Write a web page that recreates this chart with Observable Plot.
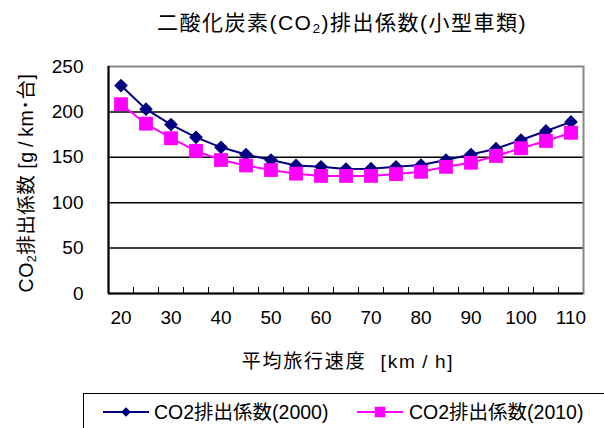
<!DOCTYPE html>
<html>
<head>
<meta charset="utf-8">
<script src="https://cdn.jsdelivr.net/npm/d3@7"></script>
<script src="https://cdn.jsdelivr.net/npm/@observablehq/plot@0.6"></script>
<style>
  body { margin: 0; background: #fff; }
  #wrap { position: relative; width: 604px; height: 428px; overflow: hidden; font-family: "Liberation Sans", Arial, "Noto Sans CJK JP", sans-serif; color: #000; }
  #chart { position: absolute; left: 0; top: 0; }
  #title { position: absolute; left: 0; top: 11px; width: 684px; text-align: center; font-size: 21px; letter-spacing: 1.5px; line-height: 24px; white-space: nowrap; }
  #xlab { position: absolute; left: 0; top: 350px; width: 696px; text-align: center; font-size: 19px; letter-spacing: 1.8px; line-height: 24px; white-space: nowrap; }
  #ylab { position: absolute; left: 26px; top: 183px; transform: translate(-50%, -50%) rotate(-90deg); font-size: 19.5px; letter-spacing: 0.5px; line-height: 22px; white-space: nowrap; }
  sub { font-size: 0.65em; vertical-align: -0.25em; line-height: 0; }
  #legend { position: absolute; left: 83px; top: 393px; width: 540px; height: 50px; border: 1px solid #000; box-sizing: border-box; }
  .lg { position: absolute; top: 6px; font-size: 19.5px; line-height: 24px; white-space: nowrap; }
</style>
</head>
<body>
<div id="wrap">
  <div id="chart"></div>
  <div id="title">二酸化炭素(CO<sub>2</sub>)排出係数(小型車類)</div>
  <div id="ylab">CO<sub>2</sub>排出係数 [g&#8201;/&#8201;km･台]</div>
  <div id="xlab">平均旅行速度&nbsp; [km&#8201;/&#8201;h]</div>
  <div id="legend"></div>
</div>
<script>
const speeds = [20, 25, 30, 35, 40, 45, 50, 55, 60, 65, 70, 75, 80, 85, 90, 95, 100, 105, 110];
const co2_2000 = [229, 203, 186, 172, 161, 153, 147, 141, 139.5, 137, 137.5, 139.5, 141.5, 147, 153, 159.5, 169, 179, 189];
const co2_2010 = [208.5, 187, 171, 157, 147, 141, 136, 132, 129.5, 129.5, 129.5, 131.5, 134, 139.5, 144, 151.5, 160, 168, 177];
const seriesNames = ["CO2排出係数(2000)", "CO2排出係数(2010)"];
const xTickLabels = [20, 30, 40, 50, 60, 70, 80, 90, 100, 110];
const yTicks = [0, 50, 100, 150, 200, 250];
const gridVals = [50, 100, 150, 200];

const d2000 = speeds.map((s, i) => ({speed: s, value: co2_2000[i]}));
const d2010 = speeds.map((s, i) => ({speed: s, value: co2_2010[i]}));
const step = speeds[1] - speeds[0];
const xDomain = [speeds[0] - step / 2, speeds[speeds.length - 1] + step / 2];
const boundaries = speeds.slice(1).map(s => s - step / 2);

const font = '"Liberation Sans", Arial, "Noto Sans CJK JP", sans-serif';

const chart = Plot.plot({
  width: 604,
  height: 385,
  marginTop: 66,
  marginBottom: 92,
  marginLeft: 108,
  marginRight: 21,
  style: {fontFamily: font, fontSize: "19px", color: "#000", background: "transparent"},
  x: {type: "linear", domain: xDomain},
  y: {domain: [0, 250]},
  marks: [
    Plot.ruleY(gridVals, {stroke: "#000", strokeWidth: 1.5}),
    Plot.frame({stroke: "#888", strokeWidth: 2}),
    Plot.ruleY([0], {stroke: "#000", strokeWidth: 2}),
    Plot.ruleX([xDomain[0]], {stroke: "#000", strokeWidth: 2}),
    Plot.axisY({ticks: yTicks, tickSize: 0, tickPadding: 25, fontSize: 19, label: null}),
    Plot.axisX({ticks: boundaries, tickSize: -6, tickFormat: () => "", label: null, stroke: "#000"}),
    Plot.axisX({ticks: xTickLabels, tickSize: 0, tickPadding: 17, fontSize: 19, label: null}),
    Plot.line(d2000, {x: "speed", y: "value", stroke: "#000080", strokeWidth: 2}),
    Plot.dot(d2000, {x: "speed", y: "value", symbol: "diamond2", r: 6.2, fill: "#000080", stroke: "none"}),
    Plot.line(d2010, {x: "speed", y: "value", stroke: "#FF00FF", strokeWidth: 2}),
    Plot.dot(d2010, {x: "speed", y: "value", symbol: "square", r: 7.8, fill: "#FF00FF", stroke: "none"})
  ]
});
document.getElementById("chart").appendChild(chart);

// legend
const legend = document.getElementById("legend");
const items = [
  {name: seriesNames[0], color: "#000080", sym: d3.symbolDiamond2, size: 60, lineX: 19, textX: 70},
  {name: seriesNames[1], color: "#FF00FF", sym: d3.symbolSquare, size: 110, lineX: 273, textX: 325}
];
const svgNS = "http://www.w3.org/2000/svg";
const lsvg = document.createElementNS(svgNS, "svg");
lsvg.setAttribute("width", 540);
lsvg.setAttribute("height", 50);
lsvg.style.position = "absolute";
lsvg.style.left = "0"; lsvg.style.top = "0";
items.forEach(it => {
  const line = document.createElementNS(svgNS, "line");
  line.setAttribute("x1", it.lineX); line.setAttribute("x2", it.lineX + 46);
  line.setAttribute("y1", 18); line.setAttribute("y2", 18);
  line.setAttribute("stroke", it.color); line.setAttribute("stroke-width", 2);
  lsvg.appendChild(line);
  const p = document.createElementNS(svgNS, "path");
  p.setAttribute("d", d3.symbol(it.sym, it.size)());
  p.setAttribute("transform", `translate(${it.lineX + 23},18)`);
  p.setAttribute("fill", it.color);
  lsvg.appendChild(p);
  const t = document.createElement("div");
  t.className = "lg";
  t.style.left = it.textX + "px";
  t.textContent = it.name;
  legend.appendChild(t);
});
legend.appendChild(lsvg);
</script>
</body>
</html>
